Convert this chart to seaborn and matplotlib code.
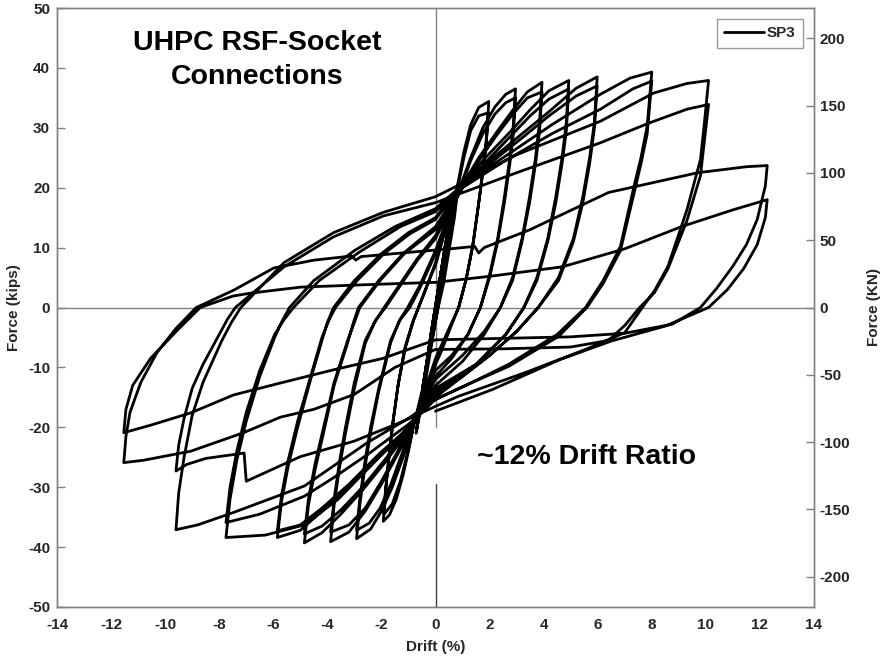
import matplotlib
matplotlib.use("Agg")
import matplotlib.pyplot as plt
import seaborn as sns
import pandas as pd

# ---------------- data (drift %, force kips) ----------------
loop_small = [(0, 0), (-0.1, -3), (-0.2, -6), (-0.25, -7.5), (-0.15, -4.5), (0, -0.5), (0.15, 3.5), (0.28, 7.5),
              (0.18, 5), (0.05, 1.5), (-0.1, -2.5), (-0.25, -7), (-0.12, -3.5), (0.05, 1), (0.28, 7.2),
              (0.15, 3.5), (0, -0.5), (-0.2, -6), (-0.38, -11), (-0.48, -13.8), (-0.35, -10), (-0.15, -4),
              (0.05, 1.5), (0.3, 8.5), (0.5, 14), (0.35, 10), (0.1, 2.5), (-0.15, -4.5), (-0.35, -10.5),
              (-0.47, -13.2), (-0.3, -8.5), (-0.1, -2.5), (0.15, 4.5), (0.35, 10), (0.5, 13.5),
              (0.3, 8.5), (0.05, 1), (-0.25, -8), (-0.5, -15), (-0.72, -21), (-0.55, -16), (-0.3, -8.5),
              (0, 0), (0.3, 8.5), (0.55, 15), (0.82, 20.5), (0.6, 14), (0.3, 5.5), (0.05, -1), (-0.25, -9),
              (-0.5, -16), (-0.7, -20.5), (-0.5, -14.5), (-0.25, -7), (0.05, 1.5), (0.35, 10), (0.6, 15.5),
              (0.82, 19.5)]

loop_2pct = [(0.7, 15), (0.5, 9.5), (0.3, 4), (0.1, 0), (-0.2, -7), (-0.5, -14), (-0.8, -19.5), (-1.0, -24),
             (-1.2, -28), (-1.45, -32), (-1.7, -34.6), (-1.93, -35.7),
             (-1.86, -31), (-1.75, -26), (-1.6, -20), (-1.4, -13.5), (-1.15, -7), (-0.85, -2.5), (-0.5, 1.5),
             (-0.2, 5), (0, 7.5), (0.4, 14), (0.8, 20), (1.05, 26), (1.3, 30.5), (1.6, 33.4), (1.97, 34.4),
             (1.9, 29), (1.78, 24), (1.6, 17.5), (1.4, 11), (1.15, 5), (0.86, 0), (0.5, -3.5), (0.2, -6.5),
             (0, -8.5), (-0.4, -14), (-0.8, -19.5), (-1.05, -24.5), (-1.3, -29), (-1.6, -32.8), (-1.9, -34.5),
             (-1.83, -30), (-1.72, -25), (-1.57, -19), (-1.37, -12.5), (-1.1, -6.5), (-0.8, -2), (-0.45, 2),
             (-0.15, 5.5), (0, 7), (0.4, 13.5), (0.8, 19.5), (1.05, 25), (1.3, 29.5), (1.6, 32), (1.95, 32.5)]

loop_3pct = [(1.88, 27.5), (1.75, 22.5), (1.57, 16.5), (1.37, 10), (1.12, 4.5), (0.85, 0), (0.5, -4), (0.2, -7.5),
             (0, -9.5), (-0.4, -14.5), (-0.85, -20), (-1.2, -25), (-1.6, -30), (-2.0, -34), (-2.4, -37),
             (-2.92, -38.6),
             (-2.8, -33), (-2.62, -27), (-2.4, -20.9), (-2.1, -14), (-1.66, -5.9), (-1.35, -2.3), (-1.03, 0),
             (-0.6, 3.5), (-0.3, 6.5), (0, 9.5), (0.45, 15), (0.9, 20), (1.3, 25), (1.75, 30), (2.2, 33.5),
             (2.6, 35.6), (2.96, 36.5),
             (2.88, 30.5), (2.75, 25), (2.55, 18.5), (2.3, 11.5), (2.0, 5.5), (1.66, 0), (1.2, -4.5), (0.6, -8),
             (0, -10.5), (-0.45, -15), (-0.85, -19.5), (-1.25, -24.5), (-1.65, -29.5), (-2.05, -33.5),
             (-2.45, -36), (-2.92, -37.2),
             (-2.8, -32), (-2.62, -26), (-2.4, -20), (-2.1, -13.5), (-1.66, -5.5), (-1.3, -2), (-0.95, 0),
             (-0.55, 3.5), (-0.25, 6.5), (0, 9), (0.45, 14.5), (0.9, 19.5), (1.3, 24.5), (1.75, 29),
             (2.2, 32.3), (2.6, 34.2), (2.96, 35)]

loop_4pct = [(2.88, 29), (2.75, 24), (2.55, 17.5), (2.3, 11), (2.0, 5), (1.66, 0), (1.2, -4.5), (0.6, -8.5),
             (0, -11.5), (-0.45, -15.5), (-0.9, -20), (-1.4, -24.5), (-2.0, -29.5), (-2.6, -34), (-3.2, -37.5),
             (-3.88, -39.1),
             (-3.75, -33), (-3.56, -27), (-3.33, -21), (-3.0, -13.5), (-2.6, -6), (-2.25, -2.5), (-1.9, 0),
             (-1.3, 4), (-0.7, 8), (0, 12), (0.5, 16.5), (1.0, 20.5), (1.6, 25), (2.3, 29.5), (2.9, 33.2),
             (3.4, 36), (3.94, 37.6),
             (3.85, 31), (3.7, 25), (3.48, 18.5), (3.2, 11.5), (2.85, 5), (2.4, 0), (1.8, -4), (1.0, -8),
             (0, -12), (-0.45, -15.5), (-0.9, -19.5), (-1.4, -24), (-2.0, -29), (-2.6, -33.5), (-3.2, -36.3),
             (-3.88, -37.5),
             (-3.75, -32), (-3.56, -26), (-3.33, -20), (-3.0, -12.5), (-2.6, -5.5), (-2.2, -2), (-1.85, 0),
             (-1.25, 4), (-0.65, 8), (0, 11.5), (0.5, 16), (1.0, 20), (1.6, 24.5), (2.3, 29), (2.9, 32.5),
             (3.4, 35), (3.94, 36)]

loop_5pct = [(3.85, 29.5), (3.7, 24), (3.48, 17.5), (3.2, 11), (2.85, 4.5), (2.4, 0), (1.8, -4.5), (1.0, -9),
             (0, -13), (-0.5, -16.5), (-1.0, -20.5), (-1.8, -25.5), (-2.7, -30.5), (-3.5, -34.5),
             (-4.2, -37.6), (-4.85, -39.3),
             (-4.7, -33), (-4.45, -27), (-4.14, -20.9), (-3.75, -13), (-3.25, -5.9), (-3.05, -2.7), (-2.85, 0),
             (-2.1, 4.5), (-1.2, 9), (0, 13.5), (0.5, 17), (1.0, 20.5), (1.8, 24.8), (2.8, 29.5), (3.5, 33),
             (4.2, 36.2), (4.93, 37.9),
             (4.84, 31), (4.68, 25), (4.45, 18.5), (4.15, 11.5), (3.75, 5), (3.27, 0), (2.6, -4.5),
             (1.5, -9.5), (0, -13.5), (-0.5, -16.5), (-1.0, -20), (-1.8, -25), (-2.7, -30), (-3.5, -33.8),
             (-4.2, -36.5), (-4.85, -37.8),
             (-4.7, -32), (-4.45, -26), (-4.14, -20), (-3.75, -12.5), (-3.25, -5.5), (-3.0, -2.5), (-2.8, 0),
             (-2.05, 4.5), (-1.15, 9), (0, 13), (0.5, 16.5), (1.0, 20), (1.8, 24), (2.8, 28.7), (3.5, 32),
             (4.2, 34.8), (4.93, 36.5)]

loop_6pct = [(4.84, 29.5), (4.68, 24), (4.45, 17.5), (4.15, 11), (3.75, 4.5), (3.27, 0), (2.6, -4.5),
             (1.5, -9.5), (0, -14), (-0.5, -17), (-1.1, -21), (-2.1, -25), (-3.2, -30), (-4.2, -34),
             (-5.0, -37.2), (-5.85, -38.4),
             (-5.7, -32.5), (-5.45, -26.5), (-5.1, -20), (-4.65, -12.5), (-4.2, -5.5), (-4.0, -2.5),
             (-3.77, 0), (-3.0, 4.5), (-2.0, 9), (-1.0, 12.5), (0, 15), (0.5, 18), (1.0, 20.5), (2.0, 24.5),
             (3.2, 29), (4.2, 32.7), (5.2, 36.6), (5.98, 38.5),
             (5.88, 31), (5.7, 25), (5.45, 18.5), (5.1, 11.5), (4.55, 5), (3.8, 0), (3.0, -4), (2.0, -8),
             (1.0, -11.5), (0, -14.5), (-0.5, -17), (-1.1, -20.5), (-2.1, -24.5), (-3.2, -29.5),
             (-4.2, -33.5), (-5.0, -36.3), (-5.85, -37.3),
             (-5.7, -31.5), (-5.45, -25.5), (-5.1, -19), (-4.65, -12), (-4.2, -5), (-3.95, -2.2), (-3.7, 0),
             (-2.9, 4.5), (-1.9, 9), (-0.95, 12.3), (0, 14.7), (0.5, 17.6), (1.0, 20), (2.0, 24),
             (3.2, 28.3), (4.2, 32), (5.2, 35.3), (5.98, 37)]

loop_8pct = [(5.88, 30), (5.7, 24), (5.45, 17.5), (5.1, 11), (4.55, 4.5), (3.8, 0), (3.0, -4), (2.0, -8),
             (1.0, -11.5), (0, -15), (-0.5, -17.5), (-1.0, -20), (-2.3, -26), (-3.6, -32), (-4.85, -36.3),
             (-6.3, -38), (-7.75, -38.4),
             (-7.6, -32), (-7.35, -25.5), (-7.0, -19), (-6.5, -11.5), (-5.95, -5), (-5.7, -2.5), (-5.4, 0),
             (-4.5, 4.5), (-3.0, 9.5), (-1.5, 13.5), (0, 16.5), (0.5, 18.5), (1.0, 20.5), (2.5, 25),
             (4.3, 30.5), (6.1, 35.6), (7.2, 38.3), (8.0, 39.3),
             (7.83, 30.3), (7.6, 25), (7.34, 20.2), (6.84, 10.2), (6.2, 4.5), (5.55, 0), (4.5, -4.5),
             (2.7, -9.5), (0.9, -13.5), (0, -15.3), (-0.5, -17.5), (-1.0, -19.5), (-2.5, -24.5),
             (-3.8, -28.5), (-4.85, -31.5), (-6.5, -34.5), (-7.75, -35.9),
             (-7.6, -30), (-7.35, -24), (-7.0, -17.5), (-6.5, -10.5), (-5.95, -4.5), (-5.6, -2), (-5.25, 0),
             (-4.3, 4.5), (-2.8, 9.3), (-1.3, 13.5), (0, 16), (0.5, 18.2), (1.0, 20), (2.5, 24.3),
             (4.3, 29), (6.1, 33.1), (7.3, 36.5), (8.0, 37.8)]

loop_10pct = [(7.83, 29), (7.6, 24), (7.34, 19), (6.84, 9.5), (6.2, 4), (5.6, 0), (4.56, -4.8), (2.72, -9.8),
              (0.86, -13.5), (0, -15.4), (-1.0, -18.5), (-2.5, -22.5), (-4.85, -29.8), (-7.46, -34.2),
              (-8.8, -36.3), (-9.6, -37.1),
              (-9.5, -31), (-9.3, -25), (-9.0, -18), (-8.6, -12.5), (-7.9, -5.5), (-7.55, -2.5), (-7.2, 0),
              (-5.6, 7.5), (-3.77, 12.5), (-1.92, 15.9), (0, 18.5), (0.8, 20.3), (3, 25.5), (6.1, 31.1),
              (8.07, 35.8), (9.3, 37.4), (10.1, 37.9),
              (9.95, 31), (9.8, 24.7), (9.3, 16.3), (8.6, 6.9), (8.1, 2.8), (7.65, 0), (7.0, -4.2),
              (5.55, -7), (3.3, -10.9), (0.86, -14.8), (0, -16.5), (-1.2, -19), (-3, -22.3), (-5, -24.9),
              (-7.0, -29), (-7.08, -24.3), (-8.5, -25.2), (-9.2, -26.2), (-9.6, -27.3),
              (-9.5, -23), (-9.3, -18.5), (-9.0, -13.5), (-8.6, -9.5), (-8.0, -4.5), (-7.7, -2), (-7.4, 0),
              (-5.6, 6.8), (-3.77, 11.8), (-1.92, 15.3), (0, 17.5), (3, 22.5), (6.1, 27.5), (7.9, 30.8),
              (9.3, 33.1), (10.1, 33.9)]

loop_12pct = [(9.95, 28), (9.8, 22), (9.3, 14.5), (8.6, 6.5), (8.1, 2.5), (7.55, 0), (7.0, -3), (6.4, -5.5),
              (5, -6.6), (2.5, -6.9), (0, -7.0), (-1.5, -10), (-3.0, -14.5), (-4.5, -17), (-5.73, -18.3),
              (-7.1, -20.9), (-9.06, -24), (-10.8, -25.5), (-11.53, -25.9),
              (-11.45, -21.5), (-11.3, -17.5), (-10.9, -12.5), (-10.3, -7.5), (-9.6, -3.5), (-8.85, 0),
              (-7.46, 2.9), (-5.98, 6.6), (-4.5, 7.9), (-3.1, 8.6), (-2.95, 7.9), (-2.75, 8.5), (-1.0, 9.2),
              (0.55, 9.8), (1.45, 10.2), (1.6, 9.1), (1.8, 10.0), (3.5, 13), (6.4, 19.2), (9.7, 22.5),
              (11.5, 23.5), (12.27, 23.7),
              (12.2, 20.3), (11.9, 14.7), (11.5, 10.5), (11.0, 6.9), (10.4, 3.2), (9.8, 0), (8.75, -2.8),
              (7, -4.3), (5, -4.9), (3, -5.1), (0, -5.4), (-1.95, -8.5), (-3.77, -10.4), (-5.73, -12.6),
              (-7.47, -14.6), (-9.06, -17.6), (-10.5, -19.6), (-11.53, -20.9),
              (-11.45, -17), (-11.2, -13), (-10.54, -8.5), (-9.55, -3.8), (-8.7, 0), (-7.5, 1.9),
              (-6.84, 2.4), (-4.99, 3.4), (-2, 3.9), (0, 4.2), (2, 5.2), (4.7, 6.8), (7, 9.8), (9.1, 13.5),
              (11, 16.3), (12.27, 18.0),
              (12.2, 15), (11.9, 10.5), (11.4, 6.5), (10.8, 3), (10.1, 0), (8.5, -3.1), (6.5, -5.6),
              (4.6, -8.7), (2.1, -13.7), (0, -17.3)]

x_ticks = list(range(-14, 15, 2))
y_ticks = list(range(-50, 51, 10))
kn_ticks = [-200, -150, -100, -50, 0, 50, 100, 150, 200]
KIPS_TO_KN = 4.44822
series_name = "SP3"
title_lines = ["UHPC RSF-Socket", "Connections"]
note_text = "~12% Drift Ratio"

# ---------------- build the table ----------------
history = (loop_small + loop_2pct + loop_3pct + loop_4pct + loop_5pct + loop_6pct
           + loop_8pct + loop_10pct + loop_12pct)
df = pd.DataFrame(history, columns=["drift", "force"])
df["step"] = range(len(df))

# ---------------- style ----------------
sns.set_style("white")
plt.rcParams["font.family"] = ["Liberation Sans", "DejaVu Sans"]
plt.rcParams["font.weight"] = "bold"
plt.rcParams["axes.unicode_minus"] = False
gray = "#808080"
txt = "#262626"
fs = 11

fig = plt.figure(figsize=(8.83, 6.58), dpi=100)
ax = fig.add_axes([57 / 883, 51 / 658, 757 / 883, 599 / 658])

# zero reference lines
ax.axhline(0, color=gray, lw=1.0, zorder=1)
ax.axvline(0, ymin=0.30, ymax=1.0, color=gray, lw=1.0, zorder=1)
ax.axvline(0, ymin=0.0, ymax=0.205, color="#404040", lw=1.0, zorder=1)

sns.lineplot(data=df, x="drift", y="force", sort=False, estimator=None, color="black",
             lw=2.0, label=series_name, ax=ax, zorder=3)

ax.set_xlim(-14, 14)
ax.set_ylim(-50, 50)
ax.set_xticks(x_ticks)
ax.set_yticks(y_ticks)
ax.set_xlabel("Drift (%)", fontsize=fs, fontweight="bold", color=txt, labelpad=6)
ax.set_ylabel("Force (kips)", fontsize=fs, fontweight="bold", color=txt, labelpad=5)
ax.tick_params(axis="both", direction="in", length=6, width=1, color=gray, labelsize=fs,
               labelcolor=txt)
ax.tick_params(axis="x", pad=8)
ax.tick_params(axis="y", pad=5)
for lab in ax.get_xticklabels() + ax.get_yticklabels():
    lab.set_fontweight("bold")
for s in ax.spines.values():
    s.set_color(gray)
    s.set_linewidth(1.0)

ax2 = ax.twinx()
ax2.set_ylim(-50 * KIPS_TO_KN, 50 * KIPS_TO_KN)
ax2.set_yticks(kn_ticks)
ax2.set_ylabel("Force (KN)", fontsize=fs, fontweight="bold", color=txt, labelpad=12)
ax2.tick_params(axis="y", direction="in", length=6, width=1, color=gray, labelsize=fs,
                labelcolor=txt, pad=4)
for lab in ax2.get_yticklabels():
    lab.set_fontweight("bold")
for s in ax2.spines.values():
    s.set_color(gray)
    s.set_linewidth(1.0)

leg = ax.legend(loc="upper right", frameon=True, fancybox=False, edgecolor=gray,
                handlelength=2.6, handletextpad=0.2, borderpad=0.5, borderaxespad=0.7,
                prop={"weight": "bold", "size": fs})
leg.get_frame().set_linewidth(1.0)
for t in leg.get_texts():
    t.set_color(txt)

ax.text(-6.58, 44.2, title_lines[0], ha="center", va="center",
        fontsize=20.5, fontweight="bold", color="black", zorder=5)
ax.text(-6.58, 38.4, title_lines[1], ha="center", va="center",
        fontsize=20.5, fontweight="bold", color="black", zorder=5)
ax.text(5.58, -24.9, note_text, ha="center", va="center",
        fontsize=20.5, fontweight="bold", color="black", zorder=5)

fig.savefig("out.png", dpi=100)
